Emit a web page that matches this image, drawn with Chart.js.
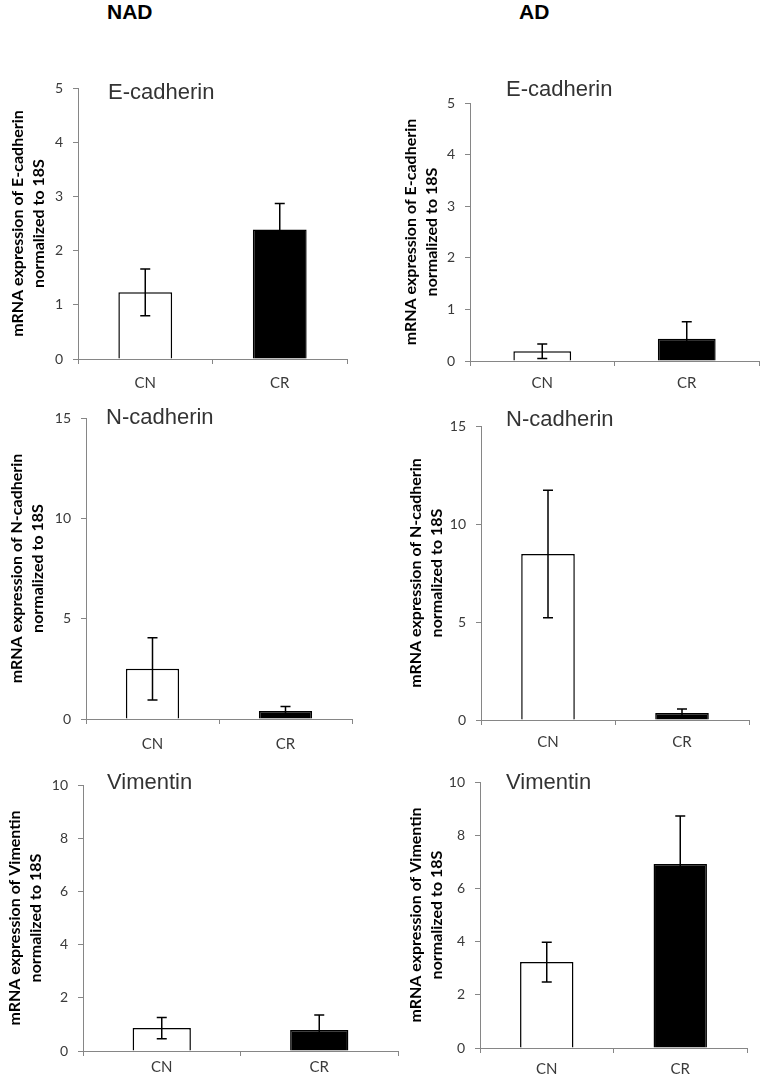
<!DOCTYPE html>
<html><head><meta charset="utf-8">
<script src="https://cdn.jsdelivr.net/npm/chart.js@4/dist/chart.umd.min.js"></script>
<style>
html,body{margin:0;padding:0;background:#fff;width:762px;height:1084px;overflow:hidden;position:relative}
canvas{position:absolute}
.hd{position:absolute;font:bold 21px "Liberation Sans",Arial,sans-serif;color:#000;top:0;line-height:24px}
</style></head><body>
<div class="hd" style="left:107px">NAD</div>
<div class="hd" style="left:519px">AD</div>
<canvas id="c1"></canvas><canvas id="c2"></canvas>
<canvas id="c3"></canvas><canvas id="c4"></canvas>
<canvas id="c5"></canvas><canvas id="c6"></canvas>
<script>
// ---- data ----
const categories = ['CN', 'CR'];
const nadEcadMean = [1.23, 2.39];
const nadEcadErr  = [0.43, 0.48];
const adEcadMean  = [0.19, 0.43];
const adEcadErr   = [0.14, 0.33];
const nadNcadMean = [2.5, 0.4];
const nadNcadErr  = [1.55, 0.22];
const adNcadMean  = [8.47, 0.36];
const adNcadErr   = [3.25, 0.2];
const nadVimMean  = [0.86, 0.79];
const nadVimErr   = [0.4, 0.56];
const adVimMean   = [3.23, 6.92];
const adVimErr    = [0.75, 1.8];
const ecadTicks = {max: 5, step: 1};
const ncadTicks = {max: 15, step: 5};
const vimTicks  = {max: 10, step: 2};

const errPlugin = {
  id: 'err',
  afterDatasetsDraw(chart, args, o) {
    const {ctx, scales: {x, y}} = chart;
    const mean = chart.data.datasets[0].data;
    ctx.save();
    ctx.strokeStyle = '#000';
    ctx.lineWidth = 1.5;
    o.values.forEach((e, i) => {
      const cx = x.getPixelForValue(i);
      const yt = y.getPixelForValue(mean[i] + e);
      const yb = y.getPixelForValue(Math.max(0, mean[i] - e));
      ctx.beginPath();
      ctx.moveTo(cx, yt); ctx.lineTo(cx, yb);
      ctx.moveTo(cx - 5, yt); ctx.lineTo(cx + 5, yt);
      ctx.moveTo(cx - 5, yb); ctx.lineTo(cx + 5, yb);
      ctx.stroke();
    });
    ctx.restore();
  }
};
const titlePlugin = {
  id: 'ptitle',
  afterDraw(chart, args, o) {
    const ctx = chart.ctx;
    ctx.save();
    ctx.font = '22px "Liberation Sans", Arial, sans-serif';
    ctx.fillStyle = '#333';
    ctx.textBaseline = 'middle';
    ctx.textAlign = 'left';
    ctx.fillText(o.text, o.x, o.y);
    ctx.restore();
  }
};

const AX = '#868686';
function makePanel(id, g, mean, err, tk, gene) {
  const cv = document.getElementById(id);
  const padTop = 40, xH = 40, padR = 6;
  const left = g.panelLeft, top = g.top - padTop;
  const W = g.axisR + padR - left;
  const H = g.zero + xH - top;
  cv.width = W; cv.height = H;
  cv.style.left = left + 'px'; cv.style.top = top + 'px';
  cv.style.width = W + 'px'; cv.style.height = H + 'px';
  new Chart(cv, {
    type: 'bar',
    data: {labels: categories, datasets: [{
      data: mean,
      backgroundColor: ['#ffffff', '#000000'],
      borderColor: '#000', borderWidth: 1.5,
      barPercentage: g.barPct, categoryPercentage: 1
    }]},
    options: {
      responsive: false, animation: false, devicePixelRatio: 1,
      layout: {padding: {top: padTop, right: padR, bottom: 0, left: 0}, autoPadding: false},
      plugins: {
        legend: {display: false}, tooltip: {enabled: false},
        err: {values: err},
        ptitle: {text: gene, x: g.tx - left, y: g.ty - top}
      },
      scales: {
        x: {
          grid: {drawOnChartArea: false, drawTicks: true, tickLength: 5, offset: true, color: AX},
          border: {color: AX, width: 1},
          ticks: {font: {family: 'Lato', size: 15}, color: '#3a3a3a', padding: g.xPad},
          afterFit: s => { s.height = xH; }
        },
        y: {
          min: 0, max: tk.max,
          ticks: {stepSize: tk.step, font: {family: 'Lato', size: 14}, color: '#3a3a3a', padding: 10},
          grid: {drawOnChartArea: false, drawTicks: true, tickLength: 5, color: AX},
          border: {color: AX, width: 1},
          title: {display: true,
            text: ['mRNA expression of ' + gene, 'normalized to 18S'],
            font: {family: 'Lato', weight: 'bold', size: 16, lineHeight: 21 / 16},
            color: '#000',
            padding: {top: g.t1 - left - 10.5, bottom: 0}},
          afterFit: s => { s.width = g.axisX - left; }
        }
      }
    },
    plugins: [errPlugin, titlePlugin]
  });
}

makePanel('c1', {panelLeft: 0,   axisX: 78,  axisR: 347, top: 88,  zero: 359,  tx: 108, ty: 93,  xPad: 10, t1: 17.5, barPct: 0.4}, nadEcadMean, nadEcadErr, ecadTicks, 'E-cadherin');
makePanel('c2', {panelLeft: 381, axisX: 470, axisR: 759, top: 103, zero: 361,  tx: 506, ty: 90,  xPad: 8,  t1: 411,  barPct: 0.4}, adEcadMean, adEcadErr, ecadTicks, 'E-cadherin');
makePanel('c3', {panelLeft: 0,   axisX: 86,  axisR: 352, top: 418, zero: 719,  tx: 106, ty: 418, xPad: 11, t1: 16.5, barPct: 0.4}, nadNcadMean, nadNcadErr, ncadTicks, 'N-cadherin');
makePanel('c4', {panelLeft: 381, axisX: 481, axisR: 749, top: 426, zero: 720,  tx: 506, ty: 420, xPad: 8,  t1: 416,  barPct: 0.4}, adNcadMean, adNcadErr, ncadTicks, 'N-cadherin');
makePanel('c5', {panelLeft: 0,   axisX: 83,  axisR: 398, top: 785, zero: 1051, tx: 107, ty: 783, xPad: 2,  t1: 15,   barPct: 0.37}, nadVimMean, nadVimErr, vimTicks, 'Vimentin');
makePanel('c6', {panelLeft: 381, axisX: 480, axisR: 747, top: 782, zero: 1048, tx: 506, ty: 783, xPad: 7,  t1: 415.5, barPct: 0.4}, adVimMean, adVimErr, vimTicks, 'Vimentin');
</script>
</body></html>
